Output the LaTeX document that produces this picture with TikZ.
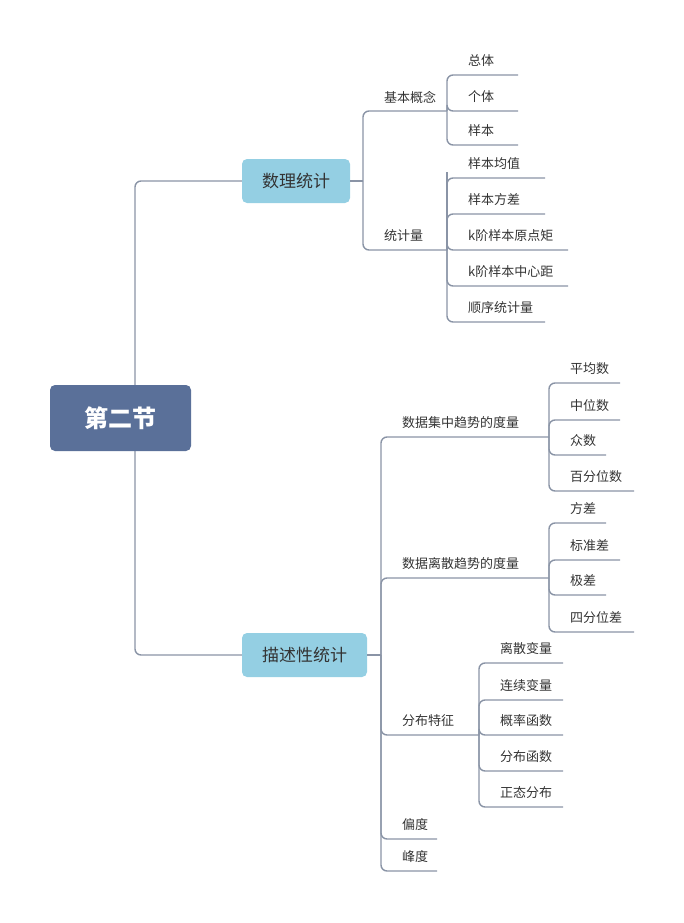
\documentclass[tikz,border=0pt]{standalone}
\usepackage{fontspec}
\setmainfont{Noto Sans CJK SC}
\definecolor{ln}{HTML}{8A94A6}
\definecolor{rootc}{HTML}{5A7099}
\definecolor{midc}{HTML}{94CFE3}
\definecolor{tx}{HTML}{333333}
\begin{document}
\begin{tikzpicture}[x=1pt,y=-1pt,
  conn/.style={draw=ln,line width=1.4pt,rounded corners=6pt},
  lab/.style={anchor=west,inner sep=0pt,text=tx,font=\fontsize{13}{15}\selectfont},
  mid/.style={fill=midc,rounded corners=5pt,text=tx,font=\fontsize{17}{20}\selectfont}]
\useasboundingbox (0,0) rectangle (684,923);
% root connectors
\draw[conn] (242,181) -- (135,181) -- (135,655) -- (242,655);
\node[fill=rootc,rounded corners=5pt,minimum width=141pt,minimum height=66pt,text=white,font=\bfseries\fontsize{24}{28}\selectfont] (root) at (120.5,418) {第二节};
\node[mid,minimum width=108pt,minimum height=44pt] (sl) at (296,181) {数理统计};
\node[mid,minimum width=125pt,minimum height=44pt] (ms) at (304.5,655) {描述性统计};
% generic: \br{xs}{xv}{y}{text}{name}
\newcommand{\myul}[5]{\draw[conn] (#1,#3) -- (#2,#3); \node[lab] (#5) at (#1+21,#3-14) {#4};}
\newcommand{\mych}[6]{\draw[conn] (#1,#2) |- (#4,#3); \node[lab] (#6) at (#1+21,#3-14) {#5};}
% 数理统计
\draw[conn] (350,181) -- (363,181);
\draw[conn] (363,181) |- (447,111);
\draw[conn] (363,181) |- (447,250);
\node[lab] (jb) at (384,97) {基本概念};
\node[lab] (tj) at (384,236) {统计量};
\mych{447}{111}{75}{518}{总体}{a1}
\mych{447}{111}{111}{518}{个体}{a2}
\mych{447}{111}{145}{518}{样本}{a3}
\draw[conn] (447,250) |- (447,178);
\mych{447}{250}{178}{545}{样本均值}{b1}
\mych{447}{250}{214}{545}{样本方差}{b2}
\mych{447}{250}{250}{568}{k阶样本原点矩}{b3}
\mych{447}{250}{286}{568}{k阶样本中心距}{b4}
\mych{447}{250}{322}{545}{顺序统计量}{b5}
% 描述性统计
\draw[conn] (367,655) -- (381,655);
\mych{381}{655}{437}{549}{数据集中趋势的度量}{c1}
\mych{381}{655}{578}{549}{数据离散趋势的度量}{c2}
\mych{381}{655}{735}{479}{分布特征}{c3}
\mych{381}{655}{839}{437}{偏度}{c4}
\mych{381}{655}{871}{437}{峰度}{c5}
\mych{549}{437}{383}{620}{平均数}{d1}
\mych{549}{437}{420}{620}{中位数}{d2}
\mych{549}{437}{455}{606}{众数}{d3}
\mych{549}{437}{491}{634}{百分位数}{d4}
\mych{549}{578}{523}{606}{方差}{e1}
\mych{549}{578}{560}{620}{标准差}{e2}
\mych{549}{578}{595}{606}{极差}{e3}
\mych{549}{578}{632}{634}{四分位差}{e4}
\mych{479}{735}{663}{563}{离散变量}{f1}
\mych{479}{735}{700}{563}{连续变量}{f2}
\mych{479}{735}{735}{563}{概率函数}{f3}
\mych{479}{735}{771}{563}{分布函数}{f4}
\mych{479}{735}{807}{563}{正态分布}{f5}
\end{tikzpicture}
\end{document}
